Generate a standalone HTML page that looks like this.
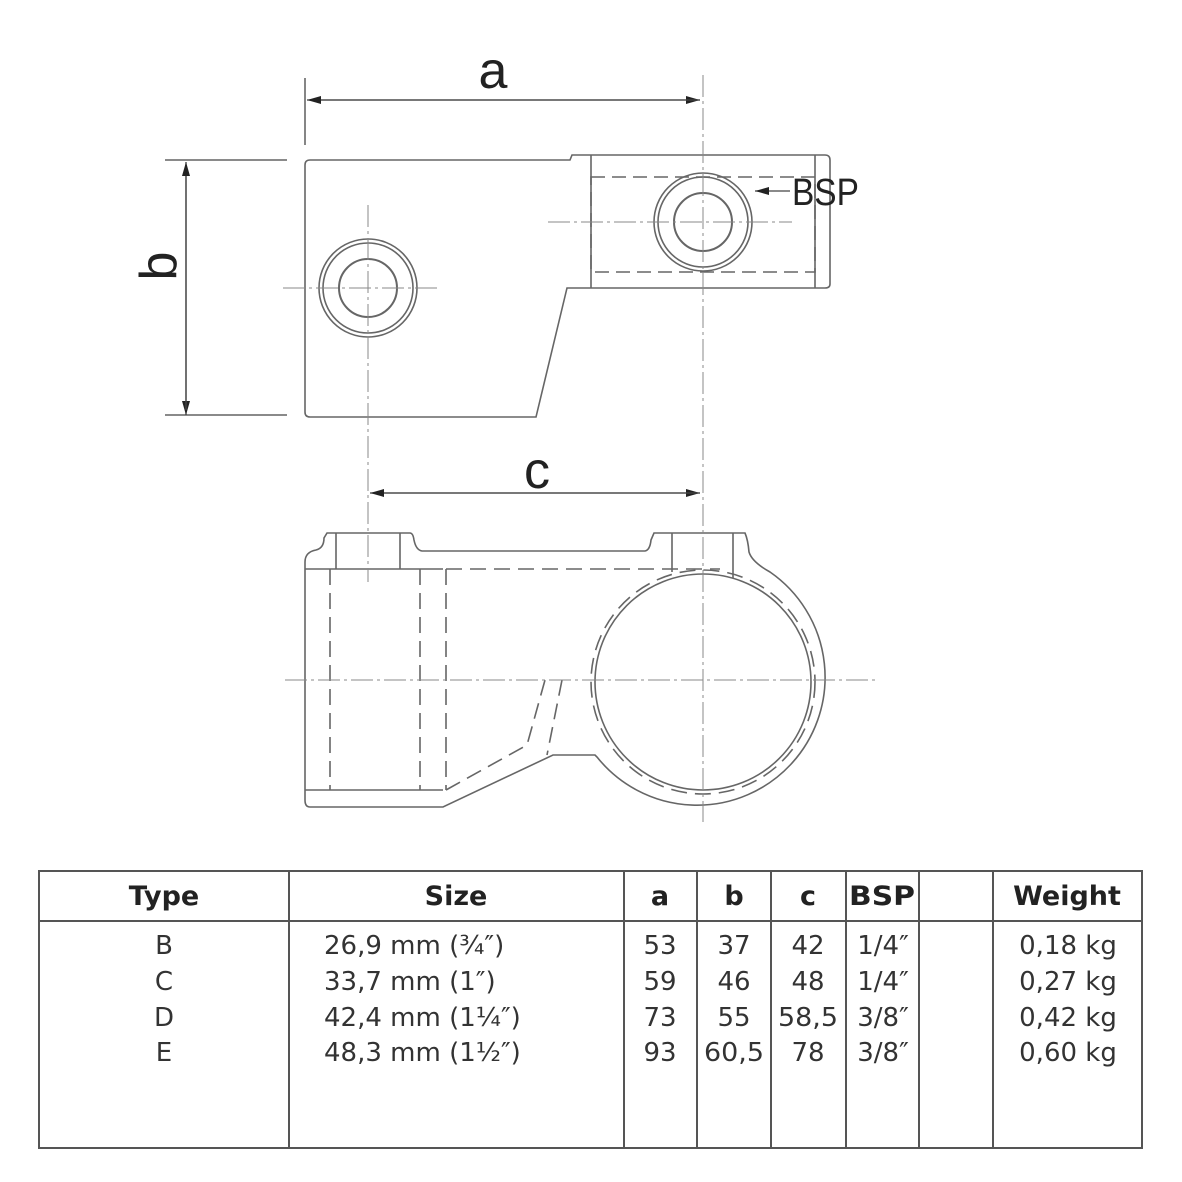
<!DOCTYPE html>
<html><head><style>html,body{margin:0;padding:0;background:#fff}svg{display:block}</style></head><body>
<svg width="1182" height="1182" viewBox="0 0 1182 1182" xmlns="http://www.w3.org/2000/svg">
<defs><marker id="ar" markerWidth="14" markerHeight="8" refX="14" refY="4" orient="auto" markerUnits="userSpaceOnUse"><path d="M0,0 L14,4 L0,8 Z" fill="#222"/></marker></defs>
<g fill="none" stroke="#666" stroke-width="1.6">
<!-- top view -->
<path d="M310,160 L570,160 L572,155 L825,155 Q830,155 830,160 L830,284 Q830,288 825,288 L567,288 L536,417 L310,417 Q305,417 305,412 L305,165 Q305,160 310,160 Z"/>
<line x1="591" y1="155" x2="591" y2="288"/>
<line x1="815" y1="155" x2="815" y2="288"/>
<path d="M591,177 H815 V272 H591 Z" stroke-dasharray="14,7"/>
<circle cx="703" cy="222" r="49"/><circle cx="703" cy="222" r="45"/><circle cx="703" cy="222" r="29" stroke-width="2"/>
<circle cx="368" cy="288" r="49"/><circle cx="368" cy="288" r="45"/><circle cx="368" cy="288" r="29" stroke-width="2"/>
<!-- bottom view -->
<path d="M305,800 L305,562 Q305,552 316,550 Q324,548 324,538 L327,533 L410,533 Q413,533 414,540 Q416,550 422,551 L645,551 Q650,550 651,540 L654,533 L745,533 Q748,540 749,552 Q752,562 770,572 A128,128 0 1 1 597,757 L595,755 L553,755 L443,807 L310,807 Q305,807 305,800"/>
<line x1="305" y1="569" x2="443" y2="569"/>
<line x1="305" y1="790" x2="443" y2="790"/>
<line x1="336" y1="533" x2="336" y2="569"/><line x1="400" y1="533" x2="400" y2="569"/>
<line x1="672" y1="533" x2="672" y2="572"/><line x1="733" y1="533" x2="733" y2="578"/>
<circle cx="703" cy="682" r="108"/>
<g stroke-dasharray="16,8">
<circle cx="703" cy="682" r="112"/>
<line x1="330" y1="569" x2="330" y2="790"/><line x1="420" y1="569" x2="420" y2="790"/><line x1="446" y1="569" x2="446" y2="790"/>
<line x1="446" y1="569" x2="720" y2="569"/>
<path d="M446,790 L527,745 L545,680"/>
<line x1="562" y1="680" x2="547" y2="755"/>
</g>
</g>
<!-- centerlines -->
<g stroke="#888" stroke-width="1" stroke-dasharray="22,4,3,4" fill="none">
<line x1="368" y1="205" x2="368" y2="582"/>
<line x1="703" y1="75" x2="703" y2="822"/>
<line x1="283" y1="288" x2="437" y2="288"/>
<line x1="548" y1="222" x2="792" y2="222"/>
<line x1="285" y1="680" x2="878" y2="680"/>
</g>
<!-- dimensions -->
<g stroke="#444" stroke-width="1.3" fill="none">
<line x1="305" y1="78" x2="305" y2="145"/>
<line x1="165" y1="160" x2="287" y2="160"/><line x1="165" y1="415" x2="287" y2="415"/>
<line x1="310" y1="100" x2="700" y2="100" marker-end="url(#ar)"/>
<line x1="700" y1="100" x2="307" y2="100" marker-end="url(#ar)"/>
<line x1="186" y1="165" x2="186" y2="415" marker-end="url(#ar)"/>
<line x1="186" y1="410" x2="186" y2="162" marker-end="url(#ar)"/>
<line x1="375" y1="493" x2="700" y2="493" marker-end="url(#ar)"/>
<line x1="700" y1="493" x2="370" y2="493" marker-end="url(#ar)"/>
<line x1="790" y1="191" x2="755" y2="191" marker-end="url(#ar)"/>
</g>
<g font-family="'Liberation Sans',sans-serif" fill="#222">
<text x="493" y="88" font-size="52" text-anchor="middle">a</text>
<text x="537" y="488" font-size="52" text-anchor="middle">c</text>
<text transform="translate(176,266) rotate(-90)" font-size="52" text-anchor="middle">b</text>
<text x="792" y="205" font-size="38" transform="translate(792,0) scale(0.88,1) translate(-792,0)">BSP</text>
</g>
<!-- table -->
<g stroke="#555" stroke-width="2" fill="none">
<rect x="39" y="871" width="1103" height="277"/>
<line x1="39" y1="921" x2="1142" y2="921"/>
<line x1="289" y1="871" x2="289" y2="1148"/><line x1="624" y1="871" x2="624" y2="1148"/>
<line x1="697" y1="871" x2="697" y2="1148"/><line x1="771" y1="871" x2="771" y2="1148"/>
<line x1="846" y1="871" x2="846" y2="1148"/><line x1="919" y1="871" x2="919" y2="1148"/>
<line x1="993" y1="871" x2="993" y2="1148"/>
</g>
<g font-family="'DejaVu Sans','Liberation Sans',sans-serif" font-size="26" fill="#222" text-anchor="middle">
<g font-weight="bold" font-size="27">
<text x="164" y="905">Type</text><text x="456" y="905">Size</text><text x="660" y="905">a</text><text x="734" y="905">b</text><text x="808" y="905">c</text><text x="882" y="905" textLength="66" lengthAdjust="spacingAndGlyphs">BSP</text><text x="1067" y="905">Weight</text>
</g>
<g fill="#333">
<text x="164" y="954">B</text><text x="164" y="990">C</text><text x="164" y="1026">D</text><text x="164" y="1061">E</text>
<g text-anchor="start"><text x="324" y="954">26,9 mm (¾″)</text><text x="324" y="990">33,7 mm (1″)</text><text x="324" y="1026">42,4 mm (1¼″)</text><text x="324" y="1061">48,3 mm (1½″)</text></g>
<text x="660" y="954">53</text><text x="660" y="990">59</text><text x="660" y="1026">73</text><text x="660" y="1061">93</text>
<text x="734" y="954">37</text><text x="734" y="990">46</text><text x="734" y="1026">55</text><text x="734" y="1061" textLength="60" lengthAdjust="spacingAndGlyphs">60,5</text>
<text x="808" y="954">42</text><text x="808" y="990">48</text><text x="808" y="1026" textLength="60" lengthAdjust="spacingAndGlyphs">58,5</text><text x="808" y="1061">78</text>
<text x="883" y="954">1/4″</text><text x="883" y="990">1/4″</text><text x="883" y="1026">3/8″</text><text x="883" y="1061">3/8″</text>
<text x="1068" y="954">0,18 kg</text><text x="1068" y="990">0,27 kg</text><text x="1068" y="1026">0,42 kg</text><text x="1068" y="1061">0,60 kg</text>
</g>
</g>
</svg>
</body></html>
